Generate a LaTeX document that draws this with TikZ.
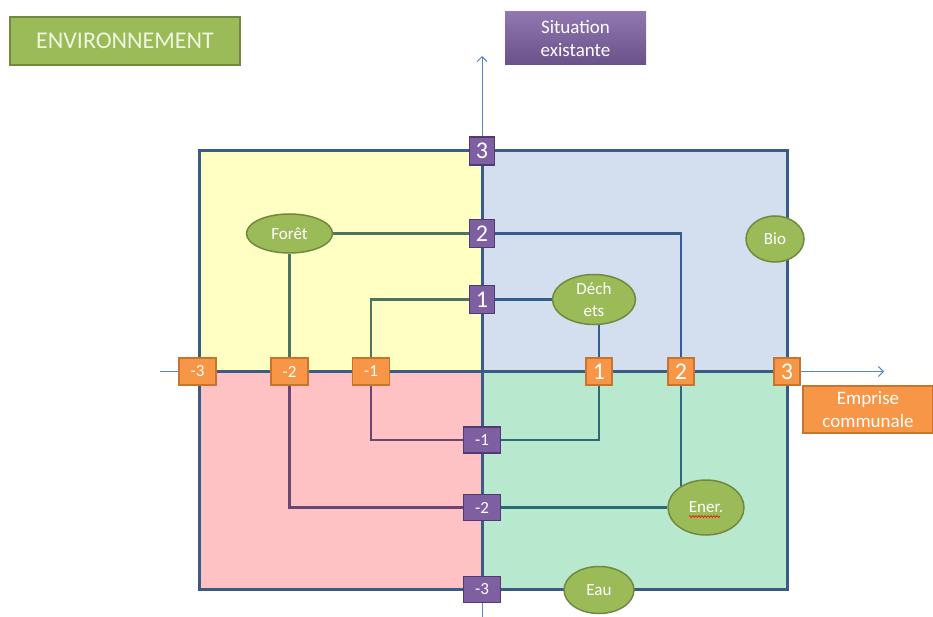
\documentclass[tikz,border=0pt]{standalone}
\usepackage{fontspec}
\setmainfont{Carlito}
\usetikzlibrary{positioning, arrows.meta, backgrounds, shapes.geometric, decorations.pathmorphing}
\definecolor{qyel}{HTML}{FFFFC4}
\definecolor{qblu}{HTML}{D3DEEE}
\definecolor{qpnk}{HTML}{FFC2C4}
\definecolor{qgrn}{HTML}{B8E8CE}
\definecolor{frm}{HTML}{3A5A88}
\definecolor{axc}{HTML}{5A86BE}
\definecolor{org}{HTML}{F79646}
\definecolor{orgd}{HTML}{C8732E}
\definecolor{prp}{HTML}{7D5FA2}
\definecolor{prpd}{HTML}{4F3B72}
\definecolor{grn}{HTML}{9BBB59}
\definecolor{grnd}{HTML}{71893F}
\tikzstyle{cell}=[draw,line width=1.2pt,text=white,inner sep=2pt,minimum height=27pt]
\tikzstyle{hpos}=[cell,fill=org,draw=orgd,minimum width=26pt,font=\fontsize{24}{24}\selectfont]
\tikzstyle{hneg}=[cell,fill=org,draw=orgd,minimum width=37pt,font=\fontsize{17}{17}\selectfont]
\tikzstyle{vpos}=[cell,fill=prp,draw=prpd,minimum width=25pt,minimum height=28pt,font=\fontsize{24}{24}\selectfont]
\tikzstyle{vneg}=[cell,fill=prp,draw=prpd,minimum width=37pt,minimum height=26pt,font=\fontsize{17}{17}\selectfont]
\tikzstyle{blob}=[ellipse,draw=grnd,line width=1.5pt,fill=grn,text=white,inner sep=0pt,font=\fontsize{17}{22}\selectfont,align=center]
\tikzstyle{tag}=[text=white,align=center,inner sep=0pt,font=\fontsize{19}{23}\selectfont]
\tikzstyle{axis}=[axc,line width=1pt]
\tikzstyle{frame}=[frm,line width=3pt]
\tikzstyle{yline}=[line width=2.2pt,draw={rgb,255:red,78;green,116;blue,96}]
\tikzstyle{pline}=[line width=2.2pt,draw={rgb,255:red,104;green,72;blue,112}]
\tikzstyle{bline}=[line width=2.2pt,draw={rgb,255:red,52;green,92;blue,140}]
\tikzstyle{gline}=[line width=2.2pt,draw={rgb,255:red,44;green,106;blue,120}]

\begin{document}
\begin{tikzpicture}[x=1pt,y=-1pt]
\useasboundingbox (0,0) rectangle (933,617);

% titles
\node[tag,fill=grn,draw=grnd,line width=1.2pt,minimum width=230pt,minimum height=48pt,font=\fontsize{24}{24}\selectfont,text={rgb,255:red,240;green,246;blue,222}] (env) at (125,41) {ENVIRONNEMENT};
\node[tag,top color=prp!85!white,bottom color=prp!85!black,minimum width=141pt,minimum height=53pt] (sit) at (575.5,38.5) {Situation\\existante};
\node[tag,fill=org,draw=orgd,line width=1.2pt,minimum width=130pt,minimum height=47pt] (emp) at (868,409.5) {Emprise\\communale};

% scale boxes
\foreach \n/\x/\t in {hm3/197.5/-3, hm2/289.5/-2, hm1/371/-1}
	\node[hneg] (\n) at (\x,371.5) {\t};
\foreach \n/\x/\t in {h1/599/1, h2/681/2, h3/787/3}
	\node[hpos] (\n) at (\x,371.5) {\t};
\foreach \n/\y/\t in {v3/151/3, v2/233.5/2, v1/299.5/1}
	\node[vpos] (\n) at (482,\y) {\t};
\foreach \n/\y/\t in {vm1/440/-1, vm2/507.5/-2, vm3/589.5/-3}
	\node[vneg] (\n) at (482,\y) {\t};

% themes
\node[blob,minimum width=86pt,minimum height=39pt] (foret) at (289.5,233.5) {Forêt};
\node[blob,minimum width=83pt,minimum height=50pt] (dech) at (594,299.5) {Déch\\ets};
\node[blob,minimum width=58pt,minimum height=46pt] (bio) at (775,239) {Bio};
\node[blob,minimum width=76pt,minimum height=55pt] (ener) at (706,507.5) {Ener.};
\node[blob,minimum width=70pt,minimum height=47pt] (eau) at (599,590) {Eau};
\draw[red,line width=0.6pt,decorate,decoration={snake,amplitude=0.9pt,segment length=3pt}]
	([xshift=-17pt,yshift=-9pt]ener.center) -- ([xshift=14pt,yshift=-9pt]ener.center);

\coordinate (xl) at (160,371.5);
\coordinate (xr) at (884,371.5);
\coordinate (yb) at (482,617);
\coordinate (yt) at (482,56);

\begin{pgfonlayer}{background}
	\fill[qyel] (199,151) rectangle (482,371.5);
	\fill[qblu] (482,151) rectangle (787,371.5);
	\fill[qpnk] (199,371.5) rectangle (482,589);
	\fill[qgrn] (482,371.5) rectangle (787,589);
	% axes
	\draw[axis] (xl) -- (hm3);
	\draw[axis,-{Straight Barb[length=5pt,width=10pt]}] (h3) -- (xr);
	\draw[axis] (yb) -- (vm3);
	\draw[axis,-{Straight Barb[length=5pt,width=10pt]}] (v3) -- (yt);
	\draw[frame] (199,151) rectangle (787,589);
	\draw[frame] (hm3) -- (h3);
	\draw[frame] (vm3) -- (v3);
	% links
	\draw[yline] (foret) -- (v2);
	\draw[yline] (foret) -- (hm2);
	\draw[yline] (hm1) |- (v1);
	\draw[pline] (hm2) |- (vm2);
	\draw[pline] (hm1) |- (vm1);
	\draw[gline] (vm1) -| (h1);
	\draw[gline] (vm2) -- (ener);
	\draw[gline] (h2) -- (h2 |- ener);
	\draw[bline] (h1) -- (h1 |- dech);
	\draw[bline] (v1) -- (dech);
	\draw[bline] (v2) -| (h2);
\end{pgfonlayer}
\end{tikzpicture}
\end{document}
